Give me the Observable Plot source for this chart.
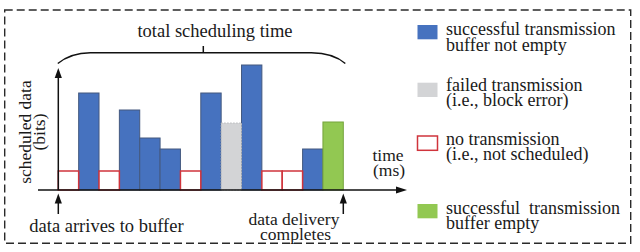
<!DOCTYPE html>
<html>
<head>
<meta charset="utf-8">
<script src="https://cdn.jsdelivr.net/npm/d3@7"></script>
<script src="https://cdn.jsdelivr.net/npm/@observablehq/plot@0.6"></script>
<style>
  html, body { margin: 0; padding: 0; background: #fff; }
</style>
</head>
<body>
<div id="chart"></div>
<script>
const SERIF = "'Liberation Serif', 'Times New Roman', Tinos, 'DejaVu Serif', serif";
// Time slots (ms) and what happened in each slot
const slots = [0, 1, 2, 3, 4, 5, 6, 7, 8, 9, 10, 11, 12, 13];
const kinds = ["none", "ok", "none", "ok", "ok", "ok", "none", "ok", "fail", "ok", "none", "none", "ok", "last"];
// Scheduled data (bits, arbitrary units)
const values = [19, 97, 19, 80, 52, 41, 19, 97, 67, 125, 19, 19, 41, 68];

const legendKinds = ["ok", "fail", "none", "last"];
const legendLines = [
  ["successful transmission", "buffer not empty"],
  ["failed transmission", "(i.e., block error)"],
  ["no transmission", "(i.e., not scheduled)"],
  ["successful  transmission", "buffer empty"]
];
const fills = {ok: "#4672bf", fail: "#d3d4d6", none: "#ffffff", last: "#92c852"};
const strokes = {ok: "#44597f", fail: "#b9babd", none: "#d0343c", last: "#75a33c"};

const data = slots.map((t, i) => ({t, kind: kinds[i], v: values[i]}));
const of = k => data.filter(d => d.kind === k);

const xDomain = [0, 14], xRange = [58.3, 343.3];
const yDomain = [0, 125], yRange = [190, 65];

const barOpts = k => ({
  x1: "t", x2: d => d.t + 1, y: "v",
  fill: fills[k], stroke: strokes[k],
  strokeWidth: k === "none" ? 1.5 : 1,
  inset: 0
});

const plot = Plot.plot({
  width: 640,
  height: 252,
  margin: 0,
  x: {domain: xDomain, range: xRange, axis: null},
  y: {domain: yDomain, range: yRange, axis: null},
  style: {background: "white", fontFamily: SERIF},
  marks: [
    Plot.rectY(of("ok"), barOpts("ok")),
    Plot.rectY(of("fail"), {...barOpts("fail"), strokeDasharray: "1.5,1.5"}),
    Plot.rectY(of("last"), barOpts("last")),
    Plot.rectY(of("none"), barOpts("none"))
  ]
});
document.getElementById("chart").appendChild(plot);

// Annotations (axes arrows, brace, labels, legend, frame)
const xs = d3.scaleLinear(xDomain, xRange);
const ys = d3.scaleLinear(yDomain, yRange);
const svg = d3.select(plot);
const g = svg.append("g").attr("font-family", SERIF).style("font-family", SERIF);
const x0 = xs(0), xN = xs(14), y0 = ys(0);

// dashed frame
g.append("rect").attr("x", 4.7).attr("y", 10).attr("width", 626).attr("height", 233.3)
  .attr("fill", "none").attr("stroke", "#2a2a2a").attr("stroke-width", 1.4)
  .attr("stroke-dasharray", "8,4");

const ink = "#111";
// x axis
g.append("line").attr("x1", 38).attr("x2", 398).attr("y1", y0).attr("y2", y0)
  .attr("stroke", ink).attr("stroke-width", 1.5);
g.append("path").attr("d", `M${407},${y0} L${396},${y0 - 3.6} L${396},${y0 + 3.6} Z`).attr("fill", ink);
// y axis
g.append("line").attr("x1", x0).attr("x2", x0).attr("y1", y0).attr("y2", 76)
  .attr("stroke", ink).attr("stroke-width", 1.5);
g.append("path").attr("d", `M${x0},${68} L${x0 - 3.6},${78} L${x0 + 3.6},${78} Z`).attr("fill", ink);
// up arrows under axis
for (const xx of [x0, xN]) {
  g.append("line").attr("x1", xx).attr("x2", xx).attr("y1", 214).attr("y2", 201)
    .attr("stroke", ink).attr("stroke-width", 1.5);
  g.append("path").attr("d", `M${xx},${193.5} L${xx - 3.6},${203.5} L${xx + 3.6},${203.5} Z`).attr("fill", ink);
}
// brace
g.append("path")
  .attr("d", `M${x0 - 0.5},63.5 C${x0 + 8},56.5 ${x0 + 18},52.8 ${x0 + 32},52.7 L${xN - 32},52.7 C${xN - 18},52.8 ${xN - 6},56.5 ${xN + 2},63.5`)
  .attr("fill", "none").attr("stroke", ink).attr("stroke-width", 1.5);
g.append("line").attr("x1", 203.3).attr("x2", 203.3).attr("y1", 52.7).attr("y2", 46)
  .attr("stroke", ink).attr("stroke-width", 1.5);

const txt = (x, y, s, anchor = "start", size = 18) => g.append("text")
  .attr("x", x).attr("y", y).attr("text-anchor", anchor)
  .attr("font-family", SERIF).style("font-family", SERIF)
  .attr("font-size", size).attr("fill", "#1a1a1a")
  .style("white-space", "pre").text(s);

txt(215, 36.7, "total scheduling time", "middle", 18.5);
txt(29.3, 232, "data arrives to buffer", "start", 18.5);
txt(294, 225, "data delivery", "middle", 17.5);
txt(295.5, 240, "completes", "middle", 17.5);
txt(388, 160.5, "time", "middle", 17.5);
txt(389, 175.5, "(ms)", "middle", 17.5);

// y label
const yl = g.append("text").attr("transform", "translate(0,132) rotate(-90)")
  .attr("text-anchor", "middle").attr("font-size", 17.5).attr("fill", "#1a1a1a")
  .attr("font-family", SERIF).style("font-family", SERIF);
yl.append("tspan").attr("x", 0).attr("y", 30.5).text("scheduled data");
yl.append("tspan").attr("x", 0).attr("y", 45).text("(bits)");

// legend
const swY = [25, 82.7, 136, 204];
const txY = [[35, 50.5], [91, 106], [144.5, 160], [213.5, 229]];
legendKinds.forEach((k, i) => {
  const sw = g.append("rect").attr("x", 417.5).attr("y", swY[i]).attr("width", 20).attr("height", 14.3)
    .attr("fill", fills[k]);
  if (k === "none") sw.attr("stroke", strokes[k]).attr("stroke-width", 1.5);
  txt(446, txY[i][0], legendLines[i][0]);
  txt(446, txY[i][1], legendLines[i][1]);
});
</script>
</body>
</html>
